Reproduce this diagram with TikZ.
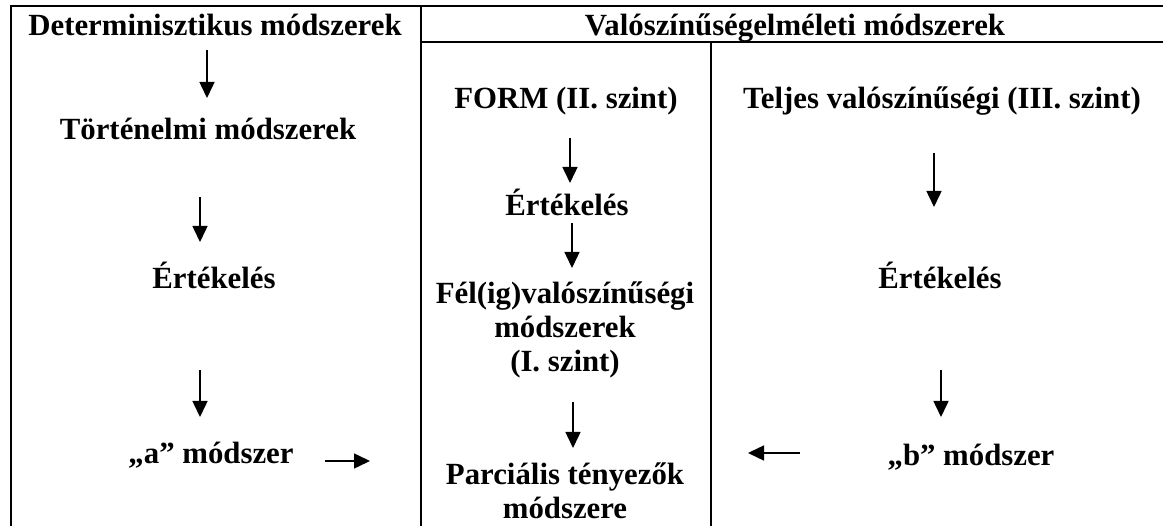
\documentclass[tikz,border=0pt]{standalone}
\usepackage{fontspec}
\setmainfont{Liberation Serif}
\usetikzlibrary{arrows.meta}
\begin{document}
\begin{tikzpicture}[x=1pt,y=-1pt,
  txt/.style={font=\bfseries\fontsize{30.8}{34}\selectfont, inner sep=0pt, anchor=base, align=center},
  frame/.style={line width=2.5pt},
  arr/.style={line width=1.5pt, -{Triangle[length=16pt,width=15pt]}}]
\useasboundingbox (0,0) rectangle (1163,526);
% table rules
\draw[frame] (11,526) -- (11,6) -- (1163,6);
\draw[frame] (421,6) -- (421,526);
\draw[frame] (421,42) -- (1163,42);
\draw[frame] (711,42) -- (711,526);
% texts
\node[txt] (det) at (215,36) {Determinisztikus módszerek};
\node[txt] (val) at (795,36) {Valószínűségelméleti módszerek};
\node[txt] (tort) at (208,140) {Történelmi módszerek};
\node[txt] (ert1) at (214,289) {Értékelés};
\node[txt] (amod) at (211,464) {„a” módszer};
\node[txt] (form) at (566,109) {FORM (II. szint)};
\node[txt] (ert2) at (567,216) {Értékelés};
\node[txt] (felig) at (565,372) {Fél(ig)valószínűségi\\módszerek\\(I. szint)};
\node[txt] (parc) at (565,519) {Parciális tényezők\\módszere};
\node[txt] (telj) at (942,109) {Teljes valószínűségi (III. szint)};
\node[txt] (ert3) at (940,289) {Értékelés};
\node[txt] (bmod) at (971,466) {„b” módszer};
% arrows
\draw[arr] ([shift={(-8,14)}]det.base) -- ([shift={(-1,-42)}]tort.base);
\draw[arr] ([shift={(-8,57)}]tort.base) -- ([shift={(-14,-47)}]ert1.base);
\draw[arr] ([shift={(-14,81)}]ert1.base) -- ([shift={(-11,-47)}]amod.base);
\draw[arr] ([shift={(114,-3)}]amod.base) -- ([shift={(-195,-58)}]parc.base);
\draw[arr] ([shift={(4,29)}]form.base) -- ([shift={(3,-33)}]ert2.base);
\draw[arr] ([shift={(5,7)}]ert2.base) -- ([shift={(7,-104)}]felig.base);
\draw[arr] ([shift={(8,30)}]felig.base) -- ([shift={(8,-71)}]parc.base);
\draw[arr] ([shift={(-171,-13)}]bmod.base) -- ([shift={(183,-66)}]parc.base);
\draw[arr] ([shift={(-8,44)}]telj.base) -- ([shift={(-6,-82)}]ert3.base);
\draw[arr] ([shift={(1,81)}]ert3.base) -- ([shift={(-30,-49)}]bmod.base);
\end{tikzpicture}
\end{document}
